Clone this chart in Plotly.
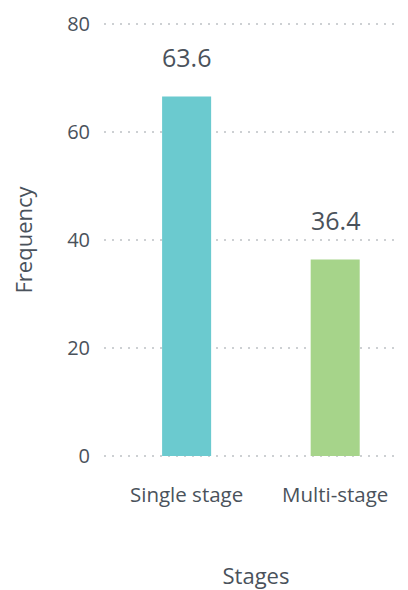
import plotly.graph_objects as go

# values
stages = ["Single stage", "Multi-stage"]
bar_heights = [66.6, 36.4]
bar_labels = ["63.6", "36.4"]
bar_colors = ["#6BCACF", "#A6D48A"]
y_ticks = [0, 20, 40, 60, 80]

text_color = "#4A525B"
font_family = "'Open Sans', sans-serif"

fig = go.Figure()
fig.add_trace(go.Bar(
    x=stages, y=bar_heights, width=0.33,
    marker=dict(color=bar_colors, line=dict(width=0)),
    hoverinfo="skip",
))

# value labels above each bar
for s, h, t in zip(stages, bar_heights, bar_labels):
    fig.add_annotation(x=s, y=h, text=t, showarrow=False, yanchor="bottom",
                       yshift=20,
                       font=dict(size=25, color=text_color, family=font_family))

# page body has an 8px margin, so the figure is a bit smaller than the window
fig.update_layout(
    width=400, height=582,
    margin=dict(l=96, r=0, t=15, b=133),
    plot_bgcolor="white", paper_bgcolor="white",
    showlegend=False,
    font=dict(family=font_family, color=text_color, size=18),
    xaxis=dict(
        range=[-0.556, 1.49], showgrid=False, zeroline=False, showline=False,
        ticks="outside", ticklen=19, tickcolor="rgba(0,0,0,0)",
        tickfont=dict(size=20.5, color=text_color),
        title=dict(text="Stages", standoff=65, font=dict(size=22, color=text_color)),
    ),
    yaxis=dict(
        range=[-0.2, 80.2], tickvals=y_ticks, showline=False, zeroline=False,
        showgrid=True, gridcolor="#CDD0D3", griddash="2px,6px", gridwidth=2,
        ticks="outside", ticklen=9, tickcolor="rgba(0,0,0,0)",
        tickfont=dict(size=20, color=text_color),
        title=dict(text="Frequency", standoff=36, font=dict(size=22, color=text_color)),
    ),
)

fig.write_html("out.html")
